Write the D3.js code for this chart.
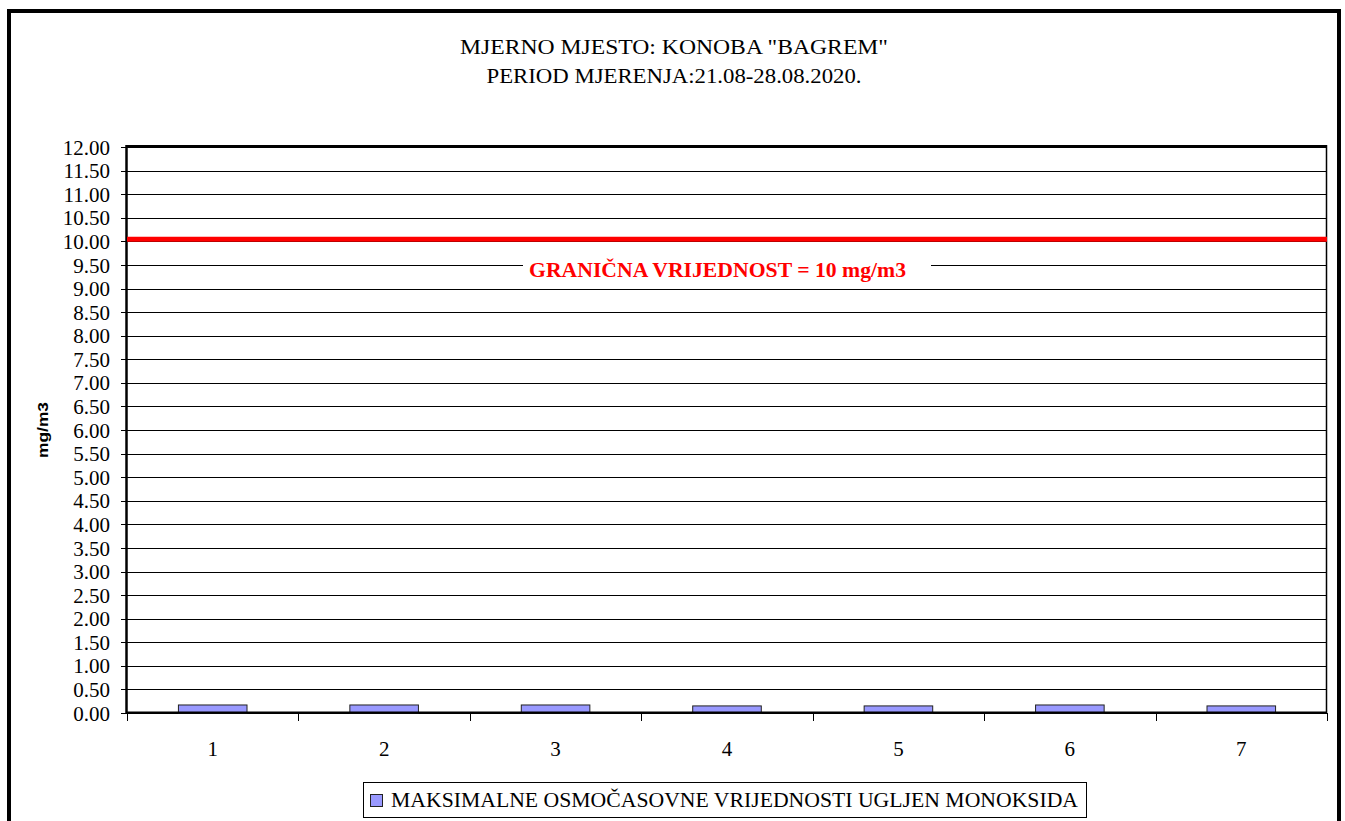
<!DOCTYPE html>
<html>
<head>
<meta charset="utf-8">
<script src="https://cdn.jsdelivr.net/npm/d3@7"></script>
<style>
  html, body { margin: 0; padding: 0; background: #fff; }
  svg { display: block; }
  .serif { font-family: "Liberation Serif", "Times New Roman", serif; }
  .sans { font-family: "Liberation Sans", Arial, sans-serif; }
</style>
</head>
<body>
<svg id="chart" width="1345" height="821"></svg>
<script>
// Measurement days and maximum 8-hour CO values (mg/m3)
const categories = ["1", "2", "3", "4", "5", "6", "7"];
const coValues = [0.17, 0.17, 0.17, 0.15, 0.15, 0.17, 0.15];
const yTicks = [0, 0.5, 1, 1.5, 2, 2.5, 3, 3.5, 4, 4.5, 5, 5.5, 6, 6.5, 7, 7.5, 8, 8.5, 9, 9.5, 10, 10.5, 11, 11.5, 12];
const limitValue = 10;
const titleLines = ["MJERNO MJESTO: KONOBA \"BAGREM\"", "PERIOD MJERENJA:21.08-28.08.2020."];
const limitLabel = "GRANIČNA VRIJEDNOST = 10 mg/m3";
const legendLabel = "MAKSIMALNE OSMOČASOVNE VRIJEDNOSTI UGLJEN MONOKSIDA";
const yAxisTitle = "mg/m3";

const svg = d3.select("#chart");

const plot = { left: 127, right: 1327, top: 147, bottom: 713 };

const x = d3.scaleBand().domain(categories).range([plot.left, plot.right]).padding(0);
const xEdge = d3.scaleLinear().domain([0, categories.length]).range([plot.left, plot.right]);
const y = d3.scaleLinear().domain([0, 12]).range([plot.bottom, plot.top]);

// Outer chart frame
svg.append("rect")
  .attr("x", 9).attr("y", 11).attr("width", 1330).attr("height", 840)
  .attr("fill", "none").attr("stroke", "#000").attr("stroke-width", 4);

// Title
svg.append("g").selectAll("text").data(titleLines).join("text")
  .attr("class", "serif")
  .attr("x", 674).attr("y", (d, i) => 54 + i * 29)
  .attr("text-anchor", "middle")
  .style("font-size", "20px")
  .attr("textLength", (d, i) => i === 0 ? 428 : 375)
  .attr("lengthAdjust", "spacingAndGlyphs")
  .attr("fill", "#000")
  .text(d => d);

// Horizontal gridlines
const grid = svg.append("g")
  .attr("transform", `translate(${plot.left},0)`)
  .call(d3.axisLeft(y).tickValues(yTicks).tickSize(-(plot.right - plot.left)).tickFormat(""));
grid.select(".domain").remove();
grid.selectAll(".tick line").attr("stroke", "#000").attr("stroke-width", 1)
  .attr("shape-rendering", "crispEdges");

// Y axis with labels
const yAxis = svg.append("g")
  .attr("transform", `translate(${plot.left},0)`)
  .call(d3.axisLeft(y).tickValues(yTicks).tickSize(6).tickPadding(11).tickFormat(d3.format(".2f")));
yAxis.select(".domain").remove();
yAxis.selectAll(".tick line").attr("stroke", "#000").attr("shape-rendering", "crispEdges");
yAxis.selectAll(".tick text")
  .attr("class", "serif")
  .style("font-size", "21px").attr("fill", "#000")
  .attr("dy", "0.34em");

// Plot frame: thick left, top and bottom, thin right
svg.append("line").attr("x1", plot.left - 0.5).attr("x2", plot.left - 0.5)
  .attr("y1", plot.top - 2).attr("y2", plot.bottom + 1)
  .attr("stroke", "#000").attr("stroke-width", 2.5);
svg.append("line").attr("x1", plot.left).attr("x2", plot.right)
  .attr("y1", plot.top - 1).attr("y2", plot.top - 1)
  .attr("stroke", "#000").attr("stroke-width", 2);
svg.append("line").attr("x1", plot.right - 0.5).attr("x2", plot.right - 0.5)
  .attr("y1", plot.top - 2).attr("y2", plot.bottom)
  .attr("stroke", "#000").attr("stroke-width", 1.5);

// Limit value line
svg.append("line")
  .attr("x1", plot.left).attr("x2", plot.right)
  .attr("y1", y(limitValue) - 2).attr("y2", y(limitValue) - 2)
  .attr("stroke", "#ff0000").attr("stroke-width", 5);

// Limit label on a white box
svg.append("rect")
  .attr("x", 523).attr("y", y(9.5) - 13).attr("width", 408).attr("height", 29)
  .attr("fill", "#fff");
svg.append("text")
  .attr("class", "serif")
  .attr("x", 529).attr("y", y(9.5) + 12)
  .style("font-size", "20px").style("font-weight", "bold")
  .attr("fill", "#ff0000")
  .attr("textLength", 377).attr("lengthAdjust", "spacingAndGlyphs")
  .text(limitLabel);

// Bars
const barW = x.bandwidth() * 0.4;
svg.append("g").selectAll("rect").data(coValues).join("rect")
  .attr("x", (d, i) => x(categories[i]) + (x.bandwidth() - barW) / 2)
  .attr("y", d => y(d))
  .attr("width", barW)
  .attr("height", d => y(0) - y(d))
  .attr("fill", "#9999ff")
  .attr("stroke", "#222").attr("stroke-width", 1);

// X axis: boundary ticks and baseline
const xTicks = svg.append("g")
  .attr("transform", `translate(0,${plot.bottom})`)
  .call(d3.axisBottom(xEdge).tickValues(d3.range(categories.length + 1)).tickSize(8).tickFormat(""));
xTicks.select(".domain").remove();
xTicks.selectAll(".tick line").attr("stroke", "#000").attr("shape-rendering", "crispEdges");
svg.append("line").attr("x1", plot.left - 1).attr("x2", plot.right)
  .attr("y1", plot.bottom - 0.5).attr("y2", plot.bottom - 0.5)
  .attr("stroke", "#000").attr("stroke-width", 2);

// X category labels
const xAxis = svg.append("g")
  .attr("transform", `translate(0,${plot.bottom})`)
  .call(d3.axisBottom(x).tickSize(0).tickPadding(28));
xAxis.select(".domain").remove();
xAxis.selectAll(".tick text")
  .attr("class", "serif")
  .style("font-size", "21px").attr("fill", "#000");

// Y axis title
svg.append("text")
  .attr("class", "sans")
  .attr("transform", "translate(48,430) rotate(-90)")
  .attr("text-anchor", "middle")
  .style("font-size", "15px").style("font-weight", "bold")
  .attr("textLength", 56).attr("lengthAdjust", "spacingAndGlyphs")
  .attr("fill", "#000")
  .text(yAxisTitle);

// Legend
const legend = svg.append("g");
legend.append("rect")
  .attr("x", 363.5).attr("y", 782.5).attr("width", 723).attr("height", 35)
  .attr("fill", "#fff").attr("stroke", "#000").attr("stroke-width", 1);
legend.append("rect")
  .attr("x", 370.5).attr("y", 794.5).attr("width", 12).attr("height", 12)
  .attr("fill", "#9999ff").attr("stroke", "#222").attr("stroke-width", 1);
legend.append("text")
  .attr("class", "serif")
  .attr("x", 391).attr("y", 807)
  .style("font-size", "20px").attr("fill", "#000")
  .attr("textLength", 687).attr("lengthAdjust", "spacingAndGlyphs")
  .text(legendLabel);
</script>
</body>
</html>
